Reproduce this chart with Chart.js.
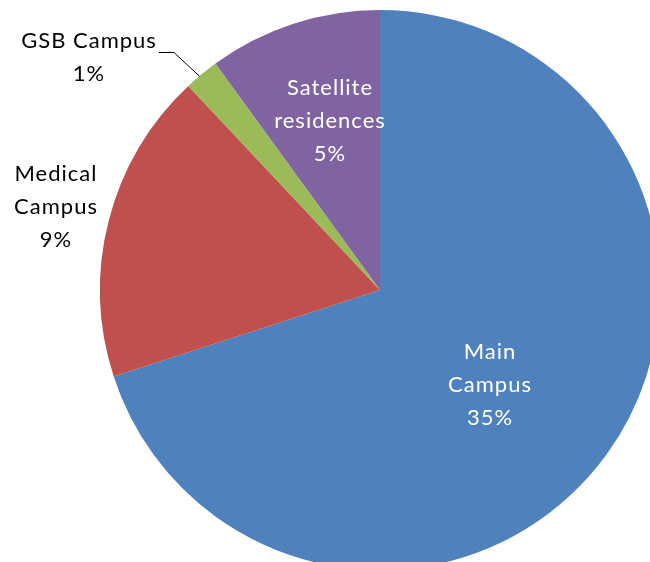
<!DOCTYPE html>
<html>
<head>
<meta charset="utf-8">
<script src="https://cdn.jsdelivr.net/npm/chart.js@4"></script>
<style>
  html, body { margin: 0; padding: 0; background: #fff; overflow: hidden; }
  #wrap { position: absolute; left: 0; top: 0; width: 650px; height: 562px; overflow: hidden; }
  #pie { position: absolute; left: 0; top: 0; }
</style>
</head>
<body>
<div id="wrap"><canvas id="pie" width="760" height="580"></canvas></div>
<script>
// ========================
// Data
// ========================
const campusLabels = ['Main Campus', 'Medical Campus', 'GSB Campus', 'Satellite residences'];
const campusValues = [35, 9, 1, 5];
const campusColors = ['#4F81BD', '#C0504D', '#9BBB59', '#8064A2'];

// how each label is written (lines) - the % line is added from the value
const labelLines = [['Main', 'Campus'], ['Medical', 'Campus'], ['GSB Campus'], ['Satellite', 'residences']];

// label placement, relative to pie centre (px)
const labelPos = [
  { dx: 110, dy: 95, color: '#fff' },
  { dx: -324, dy: -83, color: '#000' },
  { dx: -291, dy: -233, color: '#000', leader: true },
  { dx: -50, dy: -169, color: '#fff' }
];

const FONT = '22px Lato';
const LINE_H = 33;

// draws the data labels + leader line
const pieLabels = {
  id: 'pieLabels',
  afterDraw(chart) {
    const ctx = chart.ctx;
    const meta = chart.getDatasetMeta(0);
    ctx.save();
    ctx.font = FONT;
    ctx.letterSpacing = '1px';
    ctx.textAlign = 'center';
    ctx.textBaseline = 'middle';
    meta.data.forEach((arc, i) => {
      const p = labelPos[i];
      const cx = arc.x + p.dx, cy = arc.y + p.dy;
      const lines = labelLines[i].concat([campusValues[i] + '%']);
      const top = cy - (lines.length - 1) * LINE_H / 2;
      ctx.fillStyle = p.color;
      lines.forEach((t, k) => ctx.fillText(t, cx, top + k * LINE_H));

      if (p.leader) {
        const mid = (arc.startAngle + arc.endAngle) / 2;
        const ex = arc.x + Math.cos(mid) * arc.outerRadius;
        const ey = arc.y + Math.sin(mid) * arc.outerRadius;
        ctx.strokeStyle = '#000';
        ctx.lineWidth = 1;
        ctx.beginPath();
        ctx.moveTo(cx + 70, top + 12);
        ctx.lineTo(cx + 85, top + 12);
        ctx.lineTo(ex - 2, ey + 2);
        ctx.stroke();
      }
    });
    ctx.restore();
  }
};

new Chart(document.getElementById('pie'), {
  type: 'pie',
  data: {
    labels: campusLabels,
    datasets: [{
      data: campusValues,
      backgroundColor: campusColors,
      borderWidth: 0
    }]
  },
  options: {
    responsive: false,
    animation: false,
    radius: 280,
    layout: { padding: 0 },
    plugins: {
      legend: { display: false },
      tooltip: { enabled: false }
    }
  },
  plugins: [pieLabels]
});
</script>
</body>
</html>
